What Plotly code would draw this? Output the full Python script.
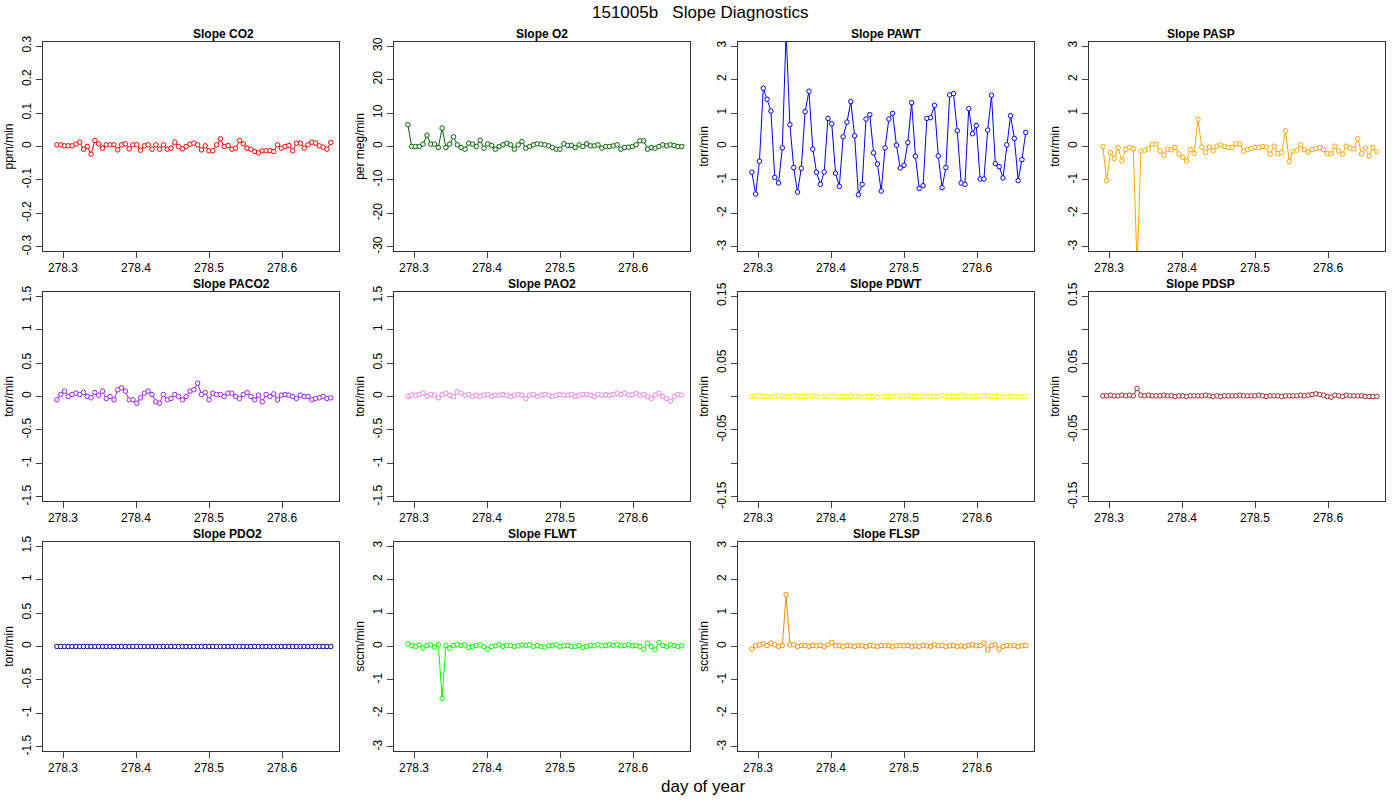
import plotly.graph_objects as go

# day-of-year timestamps (same for every panel)
doy = [278.2916, 278.2968, 278.3020, 278.3072, 278.3124, 278.3177, 278.3229, 278.3281, 278.3333, 278.3385,
       278.3437, 278.3489, 278.3541, 278.3593, 278.3645, 278.3698, 278.3750, 278.3802, 278.3854, 278.3906,
       278.3958, 278.4010, 278.4062, 278.4114, 278.4166, 278.4219, 278.4271, 278.4323, 278.4375, 278.4427,
       278.4479, 278.4531, 278.4583, 278.4635, 278.4687, 278.4740, 278.4792, 278.4844, 278.4896, 278.4948,
       278.5000, 278.5052, 278.5104, 278.5156, 278.5208, 278.5261, 278.5313, 278.5365, 278.5417, 278.5469,
       278.5521, 278.5573, 278.5625, 278.5677, 278.5729, 278.5782, 278.5834, 278.5886, 278.5938, 278.5990,
       278.6042, 278.6094, 278.6146, 278.6198, 278.6250, 278.6303, 278.6355, 278.6407, 278.6459, 278.6511,
       278.6563, 278.6615, 278.6667]

co2 = [.005, .005, .002, .002, .002, .007, .013, -.008, 0, -.023,
       .018, .008, -.005, .005, .005, .005, -.01, .005, .008, -.007,
       .005, .005, -.011, .002, .005, -.008, .005, -.008, .005, -.008,
       -.005, .013, 0, -.007, 0, .007, .01, .005, -.01, .002,
       -.013, -.013, .005, .023, 0, .003, -.008, -.005, .018, .008,
       -.005, -.008, -.015, -.019, -.013, -.013, -.012, -.015, .005, -.005,
       0, .003, -.013, .01, .01, -.005, .005, .013, .01, .002,
       -.002, -.008, .012]
o2 = [6.5, 0, 0, 0, 0.7, 3.4, 0.7, 0.7, -0.3, 5.5,
      -0.3, 0.7, 2.9, 0.5, -0.3, -0.8, 1.0, 0.7, 0, 1.9,
      -0.5, 0.8, 0.3, -0.8, 0, 0.5, 1.0, 0.5, -0.8, 0.5,
      1.5, -0.5, 0, 0.5, 0.8, 0.7, 0.5, 0.2, -0.3, -0.8,
      -0.8, 0.8, 0.3, 0.3, -0.3, 0.5, 0, 0.8, 0.2, 0.2,
      0.5, -0.5, 0, 0, 0.2, 0.5, -0.8, -0.3, -0.2, 0,
      0.5, 1.7, 1.7, -0.8, -0.3, -0.5, 0, 0.5, 0.2, 0.5,
      0.3, 0, 0]
pawt = [-0.77, -1.42, -0.44, 1.74, 1.41, 1.06, -0.92, -1.09, -0.04, 3.4,
        0.65, -0.63, -1.36, -0.65, 1.04, 1.65, -0.08, -0.77, -1.13, -0.76,
        0.84, 0.68, -0.80, -1.19, 0.29, 0.73, 1.34, 0.32, -1.44, -1.13,
        0.82, 0.95, -0.19, -0.52, -1.33, -0.04, 0.82, 0.99, 0.04, -0.64,
        -0.56, 0.12, 1.31, -0.29, -1.25, -1.17, 0.84, 0.86, 1.23, -0.28,
        -1.23, -0.63, 1.54, 1.58, 0.47, -1.09, -1.13, 1.13, 0.38, 0.63,
        -0.97, -0.97, 0.49, 1.53, -0.51, -0.60, -0.94, 0.05, 0.92, 0.24,
        -1.02, -0.39, 0.42]
pasp = [0, -1.02, -0.18, -0.36, -0.03, -0.43, -0.09, -0.03, -0.06, -3.6,
        -0.14, -0.11, -0.07, 0.07, 0.07, -0.13, -0.26, -0.09, -0.1, -0.03,
        -0.22, -0.32, -0.43, -0.09, -0.21, 0.81, -0.02, -0.18, -0.02, -0.13,
        0.01, 0.05, 0, -0.03, -0.03, 0.08, 0.08, -0.14, -0.09, -0.06,
        -0.03, -0.03, 0, -0.02, -0.23, 0.01, -0.21, -0.18, 0.47, -0.45,
        -0.14, -0.11, 0.05, -0.09, -0.17, -0.09, -0.06, -0.03, -0.09, -0.21,
        -0.22, 0.01, -0.14, -0.23, 0.01, -0.05, -0.07, 0.23, -0.22, -0.05,
        -0.28, -0.03, -0.16]
paco2 = [-0.05, 0.03, 0.08, 0.0, 0.03, 0.05, 0.03, 0.06, 0.0, -0.02,
         0.06, 0.02, 0.08, -0.03, 0.0, -0.05, 0.1, 0.13, 0.08, -0.05,
         -0.05, -0.1, -0.02, 0.05, 0.08, 0.03, -0.08, -0.1, 0.03, -0.05,
         -0.03, 0.03, 0.0, -0.05, 0.0, 0.08, 0.1, 0.2, 0.03, 0.06,
         -0.05, 0.05, 0.03, 0.03, 0.0, 0.05, 0.05, 0.0, -0.03, 0.03,
         0.06, 0.0, -0.05, 0.02, -0.08, 0.03, 0.0, 0.04, -0.05, 0.02,
         0.03, 0.02, 0.0, -0.03, 0.02, 0.0, 0.0, -0.05, -0.03, -0.02,
         0.0, -0.03, -0.02]
pao2 = [0.0, 0.02, 0.02, 0.03, 0.05, 0.0, 0.03, 0.02, -0.02, 0.03,
        0.05, 0.02, 0.0, 0.07, 0.05, 0.02, 0.03, 0.0, 0.02, 0.0,
        0.02, 0.03, 0.0, 0.02, 0.02, 0.03, 0.02, 0.0, 0.02, 0.03,
        0.02, -0.03, 0.02, 0.03, 0.0, 0.02, 0.03, 0.02, 0.0, 0.02,
        0.03, 0.02, 0.02, 0.03, 0.0, 0.02, 0.03, 0.03, 0.02, 0.0,
        0.03, 0.02, 0.03, 0.02, 0.03, 0.05, 0.03, 0.05, 0.02, 0.03,
        0.05, 0.02, 0.03, 0.0, -0.03, 0.02, 0.05, 0.0, -0.03, -0.07,
        0.0, 0.03, 0.02]
pdwt = [0.0, 0.0, 0.001, 0.0, 0.0, -0.001, 0.0, 0.001, 0.0, 0.0,
        0.0, 0.001, 0.0, 0.0, 0.0, 0.001, 0.0, 0.0, -0.001, 0.0,
        0.0, 0.001, 0.0, 0.0, 0.0, 0.0, 0.001, 0.0, 0.0, -0.001,
        0.0, 0.0, 0.0, -0.001, -0.001, 0.0, 0.0, 0.0, 0.001, 0.0,
        0.0, 0.001, 0.0, 0.0, 0.0, 0.001, 0.0, 0.0, 0.0, 0.0,
        0.001, 0.0, 0.0, 0.0, 0.0, 0.001, 0.0, 0.0, 0.0, 0.0,
        0.0, 0.001, 0.0, 0.0, 0.0, 0.0, -0.001, 0.0, 0.0, 0.0,
        0.0, 0.0, 0.0]
pdsp = [0.001, 0.001, 0.002, 0.001, 0.001, 0.002, 0.001, 0.002, 0.001, 0.012,
        0.002, 0.001, 0.002, 0.001, 0.001, 0.001, 0.002, 0.001, 0.001, 0.0,
        0.001, 0.001, 0.0, 0.001, 0.001, 0.001, 0.001, 0.002, 0.001, 0.0,
        0.001, 0.0, 0.001, 0.001, 0.001, 0.001, 0.002, 0.001, 0.001, 0.001,
        0.001, 0.002, 0.001, 0.0, 0.001, 0.001, 0.001, 0.0, 0.001, 0.001,
        0.001, 0.001, 0.002, 0.001, 0.002, 0.003, 0.004, 0.003, 0.002, 0.0,
        -0.001, 0.002, 0.001, 0.0, 0.002, 0.001, 0.001, 0.001, 0.001, 0.0,
        0.0, 0.0, 0.0]
pdo2 = [0.0] * 73
flwt = [0.08, 0.03, 0.0, 0.05, -0.05, 0.03, 0.05, -0.02, 0.05, -1.55,
        0.03, -0.05, 0.03, 0.05, 0.03, 0.05, -0.03, 0.0, 0.03, 0.05,
        0.0, -0.08, 0.0, 0.02, 0.05, 0.0, 0.03, 0.03, 0.0, 0.02,
        0.05, 0.03, 0.05, 0.0, 0.03, 0.0, -0.02, 0.02, 0.03, 0.05,
        0.0, 0.02, 0.03, 0.0, 0.0, 0.03, -0.03, 0.0, 0.03, 0.02,
        0.05, 0.02, 0.03, 0.05, 0.03, 0.05, 0.02, 0.03, 0.05, 0.02,
        0.03, 0.0, -0.08, 0.1, 0.0, -0.1, 0.12, 0.03, 0.0, 0.05,
        0.03, 0.0, 0.02]
flsp = [-0.08, 0.02, 0.05, 0.08, 0.03, 0.1, 0.05, 0.0, 0.03, 1.55,
        0.05, 0.05, 0.0, 0.03, 0.03, 0.0, 0.03, 0.02, 0.03, 0.0,
        0.05, 0.12, 0.02, 0.03, 0.0, 0.03, 0.02, 0.0, 0.03, 0.02,
        0.0, 0.03, 0.02, 0.0, 0.03, 0.02, 0.03, 0.0, 0.02, 0.03,
        0.02, 0.03, 0.0, 0.02, 0.0, 0.03, 0.02, 0.0, 0.05, 0.02,
        0.03, 0.0, 0.02, 0.03, 0.0, 0.02, 0.0, 0.03, 0.05, 0.02,
        0.03, 0.1, -0.1, 0.03, 0.05, -0.08, 0.0, 0.03, 0.02, 0.03,
        0.0, 0.02, 0.03]

# (title, values, colour, y label, half range, tick step, hidden tick labels)
panels = [
    ("Slope CO2", co2, "#FF0000", "ppm/min", 0.3, 0.1, []),
    ("Slope O2", o2, "#006400", "per meg/min", 30, 10, []),
    ("Slope PAWT", pawt, "#0000FF", "torr/min", 3, 1, []),
    ("Slope PASP", pasp, "#FFA500", "torr/min", 3, 1, []),
    ("Slope PACO2", paco2, "#A020F0", "torr/min", 1.5, 0.5, []),
    ("Slope PAO2", pao2, "#EE82EE", "torr/min", 1.5, 0.5, []),
    ("Slope PDWT", pdwt, "#FFFF00", "torr/min", 0.15, 0.05, [-0.1, 0.0, 0.1]),
    ("Slope PDSP", pdsp, "#A52A2A", "torr/min", 0.15, 0.05, [-0.1, 0.0, 0.1]),
    ("Slope PDO2", pdo2, "#00008B", "torr/min", 1.5, 0.5, []),
    ("Slope FLWT", flwt, "#00FF00", "sccm/min", 3, 1, []),
    ("Slope FLSP", flsp, "#FF8C00", "sccm/min", 3, 1, []),
]

W, H = 1400, 800
col_px = [(43, 339), (394, 690), (738, 1034), (1089, 1385)]
row_px = [(42, 251), (292, 501), (542, 751)]


def px_x(p):
    return p / W


def px_y(p):
    return 1 - p / H


fig = go.Figure()
font = "Liberation Sans, Arial, sans-serif"

for i, (title, vals, color, ylab, lim, step, hide) in enumerate(panels):
    r, c = divmod(i, 4)
    n = i + 1
    sfx = "" if n == 1 else str(n)
    fig.add_trace(go.Scatter(
        x=doy, y=vals, mode="lines+markers", xaxis="x" + sfx, yaxis="y" + sfx,
        line=dict(color=color, width=1),
        marker=dict(symbol="circle", size=4.5, color="white", line=dict(color=color, width=1)),
        showlegend=False,
    ))
    x0, x1 = col_px[c]
    y0, y1 = row_px[r]
    # tick values and labels
    k = round(lim / step)
    tv = [round(j * step, 4) for j in range(-k, k + 1)]
    tt = ["" if any(abs(t - h) < 1e-9 for h in hide) else ("%g" % t) for t in tv]
    fig.layout["xaxis" + sfx] = dict(
        domain=[px_x(x0), px_x(x1)], anchor="y" + sfx, range=[278.2726, 278.678], automargin=False,
        tickvals=[278.3, 278.4, 278.5, 278.6], ticktext=["278.3", "278.4", "278.5", "278.6"],
        ticks="outside", ticklen=6, showline=True, mirror=True, linecolor="#333",
        showgrid=False, zeroline=False, tickfont=dict(size=12, color="black"),
    )
    pad = lim * 0.04
    fig.layout["yaxis" + sfx] = dict(
        domain=[px_y(y1), px_y(y0)], anchor="x" + sfx, range=[-lim - pad, lim + pad],
        tickvals=tv, ticktext=tt, tickangle=-90, automargin=False,
        ticks="outside", ticklen=6, showline=True, mirror=True, linecolor="#333",
        showgrid=False, zeroline=False, tickfont=dict(size=12, color="black"),
        title=dict(text=ylab, font=dict(size=12, color="black"), standoff=4),
    )
    fig.add_annotation(text="<b>" + title + "</b>", x=px_x((x0 + x1) / 2), y=px_y(y0 - 8),
                       xref="paper", yref="paper", showarrow=False, yanchor="middle",
                       font=dict(size=12, color="black"))

fig.add_annotation(text="151005b   Slope Diagnostics", x=px_x(700), y=px_y(13), xref="paper", yref="paper",
                   showarrow=False, yanchor="middle", font=dict(size=17, color="black"))
fig.add_annotation(text="day of year", x=px_x(703), y=px_y(786), xref="paper", yref="paper",
                   showarrow=False, yanchor="middle", font=dict(size=17, color="black"))

fig.update_layout(width=W, height=H, margin=dict(l=0, r=0, t=0, b=0),
                  plot_bgcolor="white", paper_bgcolor="white", font=dict(family=font))
# drop the default body margin so the figure sits at the page corner
fig.write_html("out.html", post_script="document.body.style.margin='0';",
               config={"displayModeBar": False})
